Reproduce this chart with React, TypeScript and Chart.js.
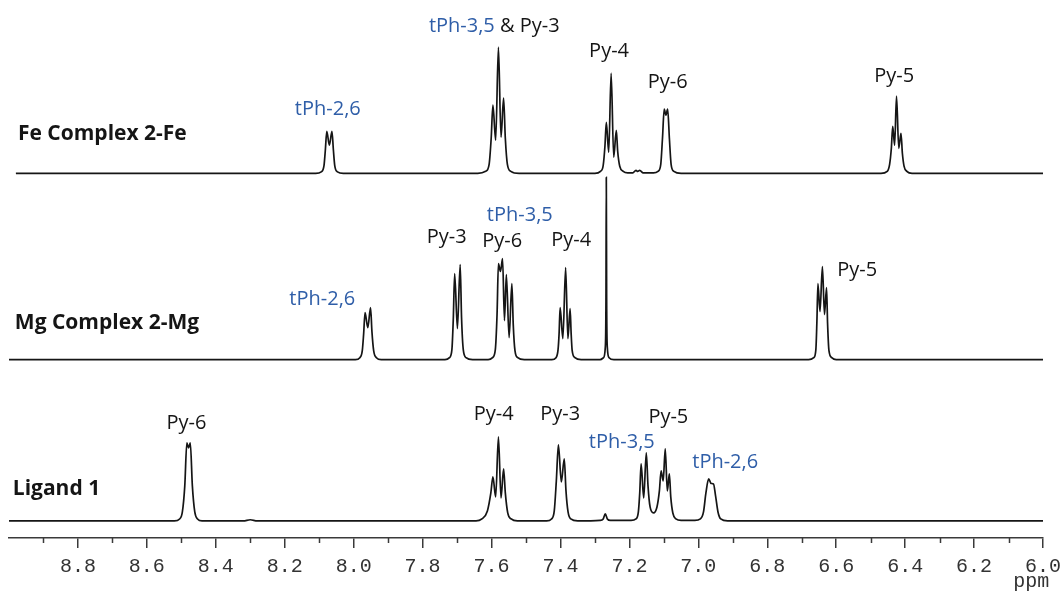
import React, { useEffect, useRef } from 'react';
import { Chart, registerables } from 'chart.js';

Chart.register(...registerables);

// ---- Data: [chemical shift (ppm), intensity above the spectrum's own baseline] ----
const feComplex: [number, number][] = [
  [8.98, 0],
  [8.11, 0], [8.094, 1.5], [8.086, 8], [8.082, 24], [8.078, 42], [8.0705, 28], [8.063, 42], [8.059, 24], [8.055, 8], [8.047, 1.5], [8.03, 0],
  [7.64, 0], [7.617, 2], [7.607, 9], [7.601, 35], [7.596, 68], [7.588, 33], [7.58, 126], [7.5725, 36], [7.565, 75], [7.56, 35], [7.554, 9], [7.544, 2], [7.52, 0],
  [7.3, 0], [7.284, 2], [7.276, 8], [7.271, 27], [7.267, 51], [7.26, 21], [7.253, 100], [7.2455, 16], [7.238, 43], [7.234, 22], [7.228, 7], [7.218, 2], [7.205, 0.5],
  [7.19, 0.5], [7.181, 3], [7.176, 1.8], [7.17, 3], [7.16, 0.5],
  [7.13, 0.5], [7.117, 2], [7.109, 9], [7.104, 35], [7.099, 64], [7.094, 58], [7.089, 64], [7.084, 35], [7.079, 9], [7.071, 2], [7.05, 0],
  [6.47, 0], [6.452, 2], [6.445, 9], [6.44, 25], [6.436, 47], [6.4305, 28], [6.425, 77], [6.4185, 25], [6.412, 40], [6.408, 20], [6.403, 7], [6.395, 2], [6.38, 0],
  [6.0, 0],
];

const mgComplex: [number, number][] = [
  [9.0, 0],
  [7.995, 0], [7.982, 2], [7.975, 9], [7.971, 26], [7.967, 47], [7.959, 32], [7.951, 52], [7.947, 28], [7.942, 9], [7.934, 2], [7.92, 0],
  [7.735, 0], [7.722, 2], [7.715, 10], [7.711, 40], [7.707, 86], [7.699, 31], [7.691, 95], [7.687, 42], [7.682, 10], [7.674, 2], [7.655, 0],
  [7.61, 0], [7.597, 2], [7.589, 10], [7.584, 45], [7.58, 96], [7.574, 88], [7.568, 101], [7.5625, 39], [7.557, 85], [7.549, 22], [7.541, 76], [7.537, 35], [7.532, 9], [7.524, 2], [7.505, 0],
  [7.425, 0], [7.413, 2], [7.407, 10], [7.404, 26], [7.401, 52], [7.393, 21], [7.385, 92], [7.3785, 21], [7.372, 51], [7.369, 26], [7.366, 9], [7.358, 2], [7.34, 0],
  [7.285, 0], [7.275, 2], [7.27, 12], [7.268, 60], [7.267, 182], [7.266, 60], [7.264, 12], [7.259, 2], [7.245, 0],
  [6.68, 0], [6.665, 2], [6.659, 10], [6.656, 38], [6.653, 76], [6.647, 48], [6.64, 93], [6.634, 45], [6.628, 72], [6.625, 36], [6.621, 9], [6.613, 2], [6.6, 0],
  [6.0, 0],
];

const ligand: [number, number][] = [
  [9.0, 0],
  [8.52, 0], [8.505, 2], [8.497, 9], [8.49, 35], [8.484, 78], [8.479, 73], [8.474, 78], [8.468, 35], [8.461, 9], [8.453, 2], [8.44, 0],
  [8.32, 0], [8.3, 1.2], [8.28, 0],
  [7.645, 0], [7.628, 2], [7.612, 10], [7.602, 28], [7.596, 44], [7.588, 24], [7.58, 84], [7.5725, 23], [7.565, 52], [7.56, 28], [7.553, 8], [7.543, 2], [7.525, 0],
  [7.44, 0], [7.426, 2], [7.418, 10], [7.412, 40], [7.406, 76], [7.3975, 39], [7.389, 62], [7.384, 30], [7.378, 9], [7.37, 2], [7.35, 0],
  [7.285, 0.5], [7.276, 2], [7.27, 7], [7.264, 2], [7.255, 0.5],
  [7.195, 0.5], [7.181, 2], [7.174, 9], [7.17, 28], [7.166, 57], [7.1585, 23], [7.151, 68], [7.146, 35], [7.14, 14], [7.13, 8], [7.12, 14], [7.113, 30], [7.108, 50], [7.102, 40], [7.096, 72], [7.09, 30], [7.084, 47], [7.08, 24], [7.074, 8], [7.065, 2], [7.05, 0.5],
  [7.01, 0.5], [6.994, 2], [6.985, 9], [6.978, 28], [6.97, 42], [6.963, 37.5], [6.956, 37], [6.95, 25], [6.943, 9], [6.935, 2], [6.915, 0],
  [6.0, 0],
];

// vertical stacking offsets of the three traces
const spectrumOffsets = { fe: 364, mg: 178, ligand: 17 };

const majorTicks = [8.8, 8.6, 8.4, 8.2, 8.0, 7.8, 7.6, 7.4, 7.2, 7.0, 6.8, 6.6, 6.4, 6.2, 6.0];
const minorTicks = [8.9, 8.7, 8.5, 8.3, 8.1, 7.9, 7.7, 7.5, 7.3, 7.1, 6.9, 6.7, 6.5, 6.3, 6.1];

const BLUE = '#2f5ea8';
const BLACK = '#151515';
const AXIS = '#3a3a3a';

type Label = { parts: [string, string][]; ppm: number; y: number; bold?: boolean; align?: 'left' | 'center'; mono?: boolean };

const peakLabels: Label[] = [
  // Fe complex
  { parts: [['tPh-2,6', BLUE]], ppm: 8.075, y: 422 },
  { parts: [['tPh-3,5 ', BLUE], ['& Py-3', BLACK]], ppm: 7.592, y: 505 },
  { parts: [['Py-4', BLACK]], ppm: 7.259, y: 480 },
  { parts: [['Py-6', BLACK]], ppm: 7.089, y: 449 },
  { parts: [['Py-5', BLACK]], ppm: 6.432, y: 455 },
  // Mg complex
  { parts: [['tPh-2,6', BLUE]], ppm: 8.091, y: 233 },
  { parts: [['Py-3', BLACK]], ppm: 7.73, y: 294.5 },
  { parts: [['tPh-3,5', BLUE]], ppm: 7.518, y: 316 },
  { parts: [['Py-6', BLACK]], ppm: 7.569, y: 290 },
  { parts: [['Py-4', BLACK]], ppm: 7.369, y: 291 },
  { parts: [['Py-5', BLACK]], ppm: 6.539, y: 262 },
  // Ligand
  { parts: [['Py-6', BLACK]], ppm: 8.485, y: 109 },
  { parts: [['Py-4', BLACK]], ppm: 7.594, y: 118 },
  { parts: [['Py-3', BLACK]], ppm: 7.401, y: 118 },
  { parts: [['tPh-3,5', BLUE]], ppm: 7.222, y: 90 },
  { parts: [['Py-5', BLACK]], ppm: 7.087, y: 115 },
  { parts: [['tPh-2,6', BLUE]], ppm: 6.922, y: 70 },
  // trace titles
  { parts: [['Fe Complex 2-Fe', BLACK]], ppm: 8.974, y: 397, bold: true, align: 'left' },
  { parts: [['Mg Complex 2-Mg', BLACK]], ppm: 8.983, y: 208.5, bold: true, align: 'left' },
  { parts: [['Ligand 1', BLACK]], ppm: 8.989, y: 43, bold: true, align: 'left' },
  // axis unit
  { parts: [['ppm', '#333']], ppm: 6.034, y: -49, mono: true },
];

const toPoints = (arr: [number, number][], offset: number) => arr.map(([x, y]) => ({ x, y: y + offset }));

export default function App() {
  const ref = useRef<HTMLCanvasElement>(null);

  useEffect(() => {
    if (!ref.current) return;

    const annotate = {
      id: 'nmrAnnotate',
      afterDatasetsDraw(chart: any) {
        const { ctx, scales, chartArea } = chart;
        const xs = scales.x;
        const ys = scales.y;
        ctx.save();
        ctx.strokeStyle = AXIS;
        ctx.lineWidth = 1.5;
        for (const v of minorTicks) {
          const px = Math.round(xs.getPixelForValue(v)) + 0.5;
          ctx.beginPath();
          ctx.moveTo(px, chartArea.bottom);
          ctx.lineTo(px, chartArea.bottom + 5);
          ctx.stroke();
        }
        ctx.textBaseline = 'alphabetic';
        for (const lab of peakLabels) {
          ctx.font = lab.mono
            ? '20px "Liberation Mono", monospace'
            : lab.bold
            ? '700 21px "Open Sans", sans-serif'
            : '20px "Open Sans", sans-serif';
          const widths = lab.parts.map(([t]) => ctx.measureText(t).width);
          const total = widths.reduce((a, b) => a + b, 0);
          const px = xs.getPixelForValue(lab.ppm);
          const py = ys.getPixelForValue(lab.y);
          let cx = lab.align === 'left' ? px : px - total / 2;
          ctx.textAlign = 'left';
          lab.parts.forEach(([t, c], i) => {
            ctx.fillStyle = c;
            ctx.fillText(t, cx, py);
            cx += widths[i];
          });
        }
        ctx.restore();
      },
    };

    const lineStyle = {
      borderColor: BLACK,
      borderWidth: 1.7,
      pointRadius: 0,
      fill: false,
      cubicInterpolationMode: 'monotone' as const,
    };

    const chart = new Chart(ref.current, {
      type: 'line',
      data: {
        datasets: [
          { label: 'Fe Complex 2-Fe', data: toPoints(feComplex, spectrumOffsets.fe), ...lineStyle },
          { label: 'Mg Complex 2-Mg', data: toPoints(mgComplex, spectrumOffsets.mg), ...lineStyle },
          { label: 'Ligand 1', data: toPoints(ligand, spectrumOffsets.ligand), ...lineStyle },
        ],
      },
      options: {
        animation: false,
        responsive: false,
        devicePixelRatio: 1,
        layout: { padding: { left: 9, right: 19, top: 0, bottom: 5 } },
        plugins: { legend: { display: false }, tooltip: { enabled: false } },
        scales: {
          x: {
            type: 'linear',
            reverse: true,
            min: 6,
            max: 9,
            afterFit: (s: any) => {
              s.paddingLeft = 0;
              s.paddingRight = 0;
            },
            border: { display: true, color: AXIS, width: 1.5 },
            grid: {
              display: true,
              drawOnChartArea: false,
              drawTicks: true,
              tickLength: 10,
              lineWidth: 1.5,
              color: (c: any) =>
                c.tick && majorTicks.some((m) => Math.abs(m - c.tick.value) < 1e-6) ? AXIS : 'rgba(0,0,0,0)',
            },
            ticks: {
              stepSize: 0.2,
              padding: 7,
              maxRotation: 0,
              autoSkip: false,
              color: '#333',
              font: { family: '"Liberation Mono", monospace', size: 20 },
              callback: (v: any) =>
                majorTicks.some((m) => Math.abs(m - Number(v)) < 1e-6) ? Number(v).toFixed(1) : '',
            },
          },
          y: { display: false, min: 0, max: 537 },
        },
      },
      plugins: [annotate],
    });

    return () => chart.destroy();
  }, []);

  return (
    <div style={{ position: 'absolute', left: 0, top: 0, width: 1062, height: 591, background: '#fff' }}>
      <canvas ref={ref} width={1062} height={591} />
    </div>
  );
}
